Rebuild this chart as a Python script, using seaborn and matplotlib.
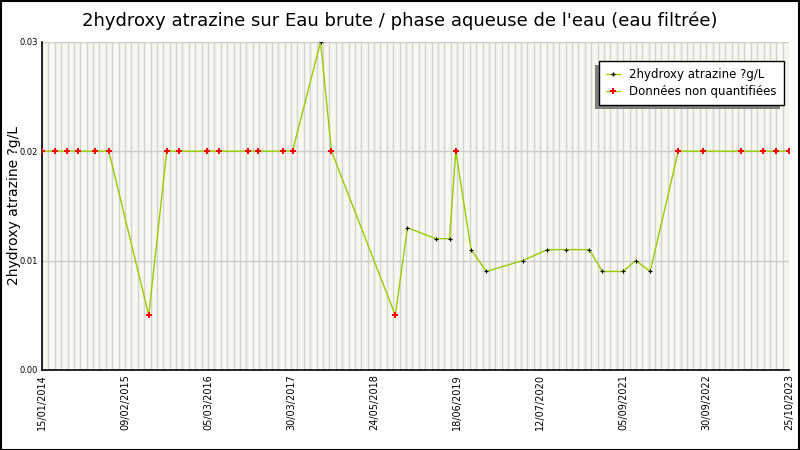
import pandas as pd
import numpy as np
import matplotlib
matplotlib.use('Agg')
import matplotlib.pyplot as plt
import matplotlib.dates as mdates
from matplotlib.lines import Line2D
from matplotlib.patches import Rectangle
import seaborn as sns

# sampling dates and values (ug/L)
dates = ['2014-01-15', '2014-03-17', '2014-05-13', '2014-07-05', '2014-09-24', '2014-11-30',
         '2015-06-09', '2015-09-03', '2015-10-30', '2016-03-12', '2016-05-08', '2016-09-23',
         '2016-11-10', '2017-03-10', '2017-04-26', '2017-09-07', '2017-10-29', '2018-08-30',
         '2018-10-27', '2019-03-12', '2019-05-16', '2019-06-15', '2019-08-27', '2019-11-08',
         '2020-04-30', '2020-08-26', '2020-11-22', '2021-03-14', '2021-05-15', '2021-08-22',
         '2021-10-22', '2021-12-30', '2022-05-13', '2022-09-09', '2023-03-10', '2023-06-23',
         '2023-08-24', '2023-10-25']
values = [0.02, 0.02, 0.02, 0.02, 0.02, 0.02,
          0.005, 0.02, 0.02, 0.02, 0.02, 0.02,
          0.02, 0.02, 0.02, 0.03, 0.02, 0.005,
          0.013, 0.012, 0.012, 0.02, 0.011, 0.009,
          0.010, 0.011, 0.011, 0.011, 0.009, 0.009,
          0.010, 0.009, 0.02, 0.02, 0.02, 0.02,
          0.02, 0.02]
# True = non quantified
non_quantified = [True, True, True, True, True, True,
                  True, True, True, True, True, True,
                  True, True, True, False, True, True,
                  False, False, False, True, False, False,
                  False, False, False, False, False, False,
                  False, False, True, True, True, True,
                  True, True]

tick_labels = ['15/01/2014', '09/02/2015', '05/03/2016', '30/03/2017', '24/05/2018',
               '18/06/2019', '12/07/2020', '05/09/2021', '30/09/2022', '25/10/2023']

series_name = '2hydroxy atrazine ?g/L'
nq_name = 'Données non quantifiées'
title = "2hydroxy atrazine sur Eau brute / phase aqueuse de l'eau (eau filtrée)"

df = pd.DataFrame({'date': pd.to_datetime(dates), 'value': values, 'nq': non_quantified})

sns.set_style('white')
plt.rcParams['font.family'] = ['DejaVu Sans']
plt.rcParams['text.color'] = 'black'
plt.rcParams['xtick.color'] = 'black'
plt.rcParams['ytick.color'] = 'black'
plt.rcParams['axes.labelcolor'] = 'black'

fig = plt.figure(figsize=(8, 4.5), dpi=100)
ax = fig.add_axes([0.0525, 0.178, 0.934, 0.729])
ax.set_facecolor('#f8f8f0')

line_col = '#99cc00'
sns.lineplot(data=df, x='date', y='value', ax=ax, color=line_col, linewidth=1, zorder=3)
sns.scatterplot(data=df[~df['nq']], x='date', y='value', ax=ax, marker='+', color='black',
                s=12, linewidth=0.8, zorder=4)
sns.scatterplot(data=df[df['nq']], x='date', y='value', ax=ax, marker='P', color='red',
                s=22, linewidth=0, zorder=5)

start = mdates.date2num(pd.Timestamp(dates[0]))
end = mdates.date2num(pd.Timestamp(dates[-1]))
ax.set_xlim(start, end)
ax.set_ylim(0, 0.03)

ax.set_xticks(np.linspace(start, end, len(tick_labels)))
ax.set_xticklabels(tick_labels, rotation=90, fontsize=7)
ax.set_xticks(np.linspace(start, end, 9 * 13 + 1), minor=True)
ax.set_yticks([0, 0.01, 0.02, 0.03])
ax.set_yticklabels(['0.00', '0.01', '0.02', '0.03'], fontsize=6)
ax.set_yticks(np.arange(0, 0.0301, 0.0025), minor=True)

ax.grid(True, axis='x', which='both', color='#d2d2d2', linewidth=1)
ax.grid(True, axis='y', which='major', color='#cccccc', linewidth=1)
ax.set_axisbelow(True)

ax.tick_params(axis='both', which='both', direction='in', length=4, width=1, pad=3)
ax.tick_params(axis='y', which='minor', length=3)

for s in ['top', 'right']:
    ax.spines[s].set_visible(False)
for s in ['left', 'bottom']:
    ax.spines[s].set_color('black')
    ax.spines[s].set_linewidth(1.2)

ax.set_xlabel('')
ax.set_ylabel(series_name, fontsize=10)
ax.yaxis.set_label_coords(-0.028, 0.5)

fig.text(0.5, 0.955, title, ha='center', va='center', fontsize=13)

handles = [
    Line2D([0], [0], color=line_col, linewidth=1, marker='+', markersize=3,
           markeredgecolor='black', markerfacecolor='black'),
    Line2D([0], [0], color=line_col, linewidth=1, marker='P', markersize=5,
           markeredgecolor='red', markerfacecolor='red', markeredgewidth=0),
]
leg = ax.legend(handles, [series_name, nq_name], loc='upper right',
                bbox_to_anchor=(0.993, 0.941), fontsize=8.5, frameon=True, fancybox=False,
                framealpha=1, handlelength=1.2, borderpad=0.6,
                labelspacing=0.3, handletextpad=0.8, borderaxespad=0)
leg.get_frame().set_edgecolor('black')
leg.get_frame().set_linewidth(1)
leg.get_frame().set_facecolor('white')

# grey shadow offset to the lower left of the legend box
fig.canvas.draw()
bb = leg.get_frame().get_window_extent().transformed(ax.transAxes.inverted())
dx = 4 / ax.bbox.width
dy = 4 / ax.bbox.height
ax.add_patch(Rectangle((bb.x0 - dx, bb.y0 - dy), bb.width, bb.height, transform=ax.transAxes,
                       facecolor='#808080', edgecolor='none', zorder=4.9, clip_on=False))

fig.patches.append(plt.Rectangle((0.001, 0.001), 0.998, 0.997, transform=fig.transFigure,
                                 fill=False, edgecolor='black', linewidth=1.5))

fig.savefig('out.png', dpi=100)
